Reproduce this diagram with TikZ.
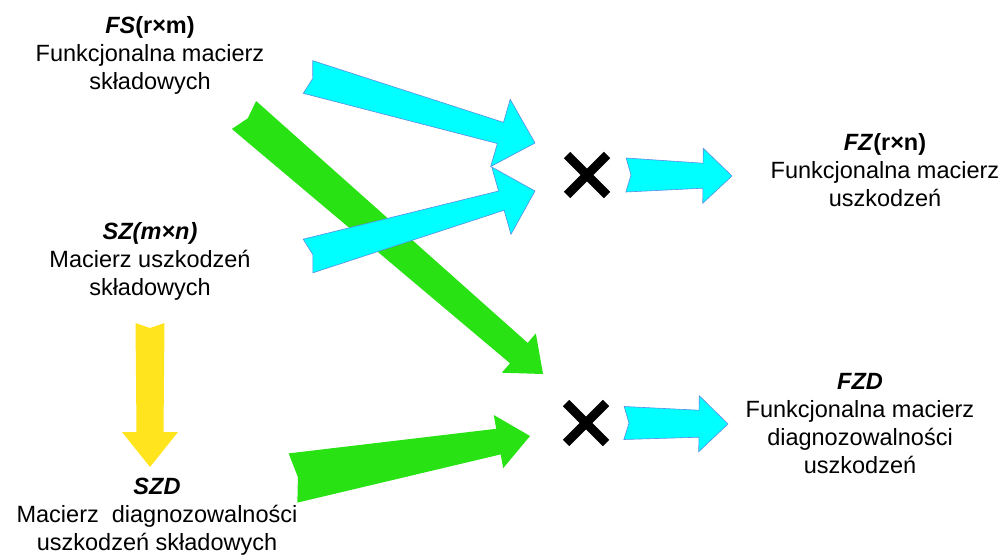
\documentclass[tikz,border=0pt]{standalone}
\usepackage{fontspec}
\setmainfont{Liberation Sans}
\usetikzlibrary{calc,shapes.misc}

\definecolor{arrcyan}{HTML}{00FFFF}
\definecolor{arrline}{HTML}{5A8CE6}
\definecolor{arrgreen}{HTML}{28E214}
\definecolor{arryellow}{HTML}{FFE41E}

% notched block arrow: style, from, to, tail, neck, head, head length
\newcommand{\blockarrow}[7]{%
\coordinate (ba-s) at #2;
\coordinate (ba-e) at #3;
\coordinate (ba-h) at ($(ba-e)!#7!(ba-s)$);
\fill[#1] ($(ba-s)!#4!90:(ba-e)$) -- ($(ba-h)!#5!-90:(ba-s)$) -- ($(ba-h)!#6!-90:(ba-s)$)
  -- (ba-e) -- ($(ba-h)!#6!90:(ba-s)$) -- ($(ba-h)!#5!90:(ba-s)$)
  -- ($(ba-s)!#4!-90:(ba-e)$) -- ($(ba-s)!5pt!(ba-e)$) -- cycle;
}

\begin{document}
\begin{tikzpicture}[x=1pt,y=-1pt,
  txt/.style={align=center,inner sep=0pt,font=\fontsize{23.5}{28}\selectfont},
  mul/.style={cross out,draw,line width=9pt,minimum size=31pt,inner sep=0pt},
  cyanarr/.style={fill=arrcyan,draw=arrline,line width=0.6pt},
  greenarr/.style={fill=arrgreen},
  yellowarr/.style={fill=arryellow}]
\useasboundingbox (0,0) rectangle (1006,559);

\node[txt] (fs) at (150,55) {\textbf{\textit{FS}(r×m)}\\Funkcjonalna macierz\\składowych};
\node[txt] (sz) at (150,261) {\textbf{\textit{SZ(m×n)}}\\Macierz uszkodzeń\\składowych};
\node[txt] (szd) at (157,517) {\textbf{\textit{SZD}}\\Macierz\ \ diagnozowalności\\uszkodzeń składowych};
\node[txt] (fz) at (885,170) {\textbf{\textit{FZ}(r×n)}\\Funkcjonalna macierz\\uszkodzeń};
\node[txt] (fzd) at (860,424) {\textbf{\textit{FZD}}\\Funkcjonalna macierz\\diagnozowalności\\uszkodzeń};

\node[mul] (mulA) at (587,175) {};
\node[mul] (mulB) at (586,423) {};

% green and yellow
\blockarrow{greenarr}{($(fs)+(94,60)$)}{($(mulB)+(-43,-49)$)}{18.5pt}{13.5pt}{26pt}{32pt}
\blockarrow{greenarr}{($(szd)+(136,-39)$)}{($(mulB)+(-56,13)$)}{25pt}{13pt}{27pt}{32pt}
\blockarrow{yellowarr}{($(sz)+(0,62)$)}{($(szd)+(-7,-50)$)}{14.5pt}{13.5pt}{28pt}{35pt}

% cyan
\blockarrow{cyanarr}{($(fs)+(158,22)$)}{($(mulA)+(-52,-32)$)}{17pt}{11pt}{35pt}{36pt}
\blockarrow{cyanarr}{($(sz)+(158,-5)$)}{($(mulA)+(-52,16)$)}{17.5pt}{10pt}{35pt}{35pt}
\blockarrow{cyanarr}{($(mulA)+(39,0)$)}{($(fz)+(-153,6)$)}{17pt}{12.5pt}{27.5pt}{29pt}
\blockarrow{cyanarr}{($(mulB)+(38,0)$)}{($(fzd)+(-132,0)$)}{16.5pt}{13.5pt}{28pt}{29pt}
\end{tikzpicture}
\end{document}
